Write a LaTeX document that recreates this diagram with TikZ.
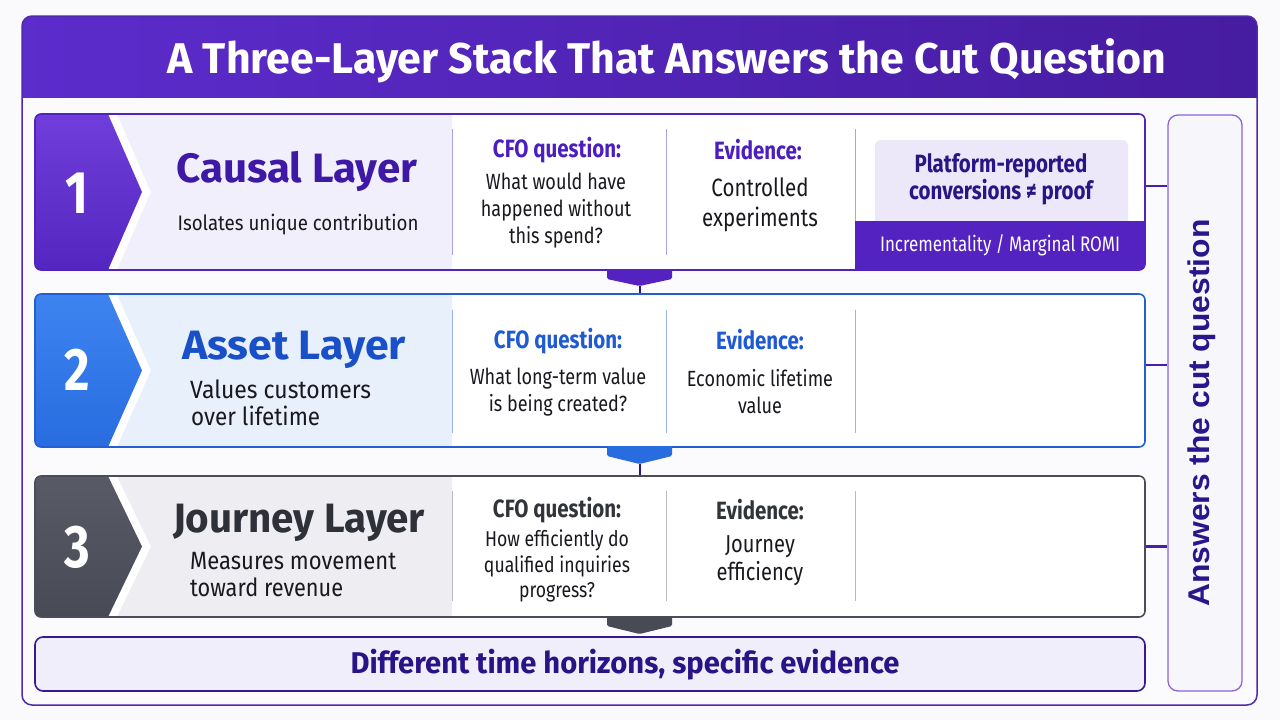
\documentclass[tikz,border=0pt]{standalone}
\usepackage{fontspec}
\usepackage{graphicx}
\setmainfont{Fira Sans}[FakeStretch=0.82]
\newfontfamily\arialfont{Liberation Sans}
\usetikzlibrary{calc}

\newsavebox\fitbox
\newlength\fitlen
\newcommand\fitw[2]{\sbox\fitbox{#2}\fitlen=\wd\fitbox\pgfmathsetmacro\fitr{#1/\fitlen}\scalebox{\fitr}[1]{\usebox\fitbox}}
\newcommand\fs[2]{\fontsize{#1}{#2}\selectfont}

\definecolor{pagebg}{RGB}{250,250,252}
\definecolor{hdrA}{RGB}{92,44,204}
\definecolor{hdrB}{RGB}{70,28,160}
\definecolor{framec}{RGB}{78,42,172}
\definecolor{inner}{RGB}{251,251,253}
\definecolor{txt}{RGB}{24,24,30}
% layer 1
\definecolor{aBorder}{RGB}{80,35,190}
\definecolor{aTop}{RGB}{112,62,218}
\definecolor{aBot}{RGB}{84,38,192}
\definecolor{aLight}{RGB}{241,239,251}
\definecolor{aTitle}{RGB}{62,25,165}
\definecolor{aHead}{RGB}{76,30,190}
\definecolor{aSep}{RGB}{175,160,230}
\definecolor{aLav}{RGB}{236,232,250}
\definecolor{aBar}{RGB}{84,34,192}
\definecolor{aDeep}{RGB}{42,21,133}
% layer 2
\definecolor{bBorder}{RGB}{35,95,210}
\definecolor{bTop}{RGB}{62,132,240}
\definecolor{bBot}{RGB}{40,108,224}
\definecolor{bLight}{RGB}{232,240,251}
\definecolor{bTitle}{RGB}{25,80,200}
\definecolor{bHead}{RGB}{30,90,210}
\definecolor{bSep}{RGB}{150,182,236}
% layer 3
\definecolor{cBorder}{RGB}{75,78,88}
\definecolor{cTop}{RGB}{88,91,102}
\definecolor{cBot}{RGB}{72,75,86}
\definecolor{cLight}{RGB}{238,238,242}
\definecolor{cTitle}{RGB}{47,49,57}
\definecolor{cHead}{RGB}{50,52,60}
\definecolor{cSep}{RGB}{185,185,195}
% others
\definecolor{botB}{RGB}{55,25,150}
\definecolor{botF}{RGB}{240,238,250}
\definecolor{botT}{RGB}{42,18,135}
\definecolor{rbB}{RGB}{140,100,220}
\definecolor{rbF}{RGB}{247,246,251}
\definecolor{rbT}{RGB}{42,22,140}
\definecolor{connc}{RGB}{72,30,170}

\tikzset{
  layerbox/.style={draw=#1, line width=1.6pt, rounded corners=6, minimum width=1110pt, inner sep=0pt},
  num/.style={text=white, font=\bfseries\fs{60}{62}},
  head/.style={text=#1, font=\bfseries\fs{25}{28}, inner sep=0pt},
  body/.style={text=txt, font=\fs{22}{27}, align=center, inner sep=0pt},
  conn/.style={draw=connc, line width=2.6pt},
  tabline/.style={draw=aDeep, line width=2pt},
  sepline/.style={line width=1pt},
}

\begin{document}
\begin{tikzpicture}[x=1pt,y=-1pt]
\useasboundingbox (0,0) rectangle (1280,720);
\fill[pagebg] (0,0) rectangle (1280,720);

% ---------- outer frame and header
\fill[inner, rounded corners=10] (22,16) rectangle (1257,705);
\begin{scope}
  \clip[rounded corners=10] (22,16) rectangle (1257,705);
  \shade[left color=hdrA, right color=hdrB] (22,16) rectangle (1257,97);
\end{scope}
\node[draw=framec, line width=1.5pt, rounded corners=10, minimum width=1235pt, minimum height=689pt, inner sep=0pt] (frame) at (639.5,360.5) {};
\node[text=white, anchor=base, inner sep=0pt] (title) at (667,73) {\fitw{999pt}{\bfseries\fs{43}{48}A Three-Layer Stack That Answers the Cut Question}};

% ---------- right box
\node[draw=rbB, fill=rbF, line width=1.3pt, rounded corners=10, minimum width=74pt, minimum height=576pt, inner sep=0pt] (rbox) at (1205,403) {};
\node[rotate=90, text=rbT, inner sep=0pt] (rtext) at (1202,413) {\fitw{387pt}{\arialfont\bfseries\fs{30}{32}Answers the cut question}};

% ---------- layer 1
\fill[white, rounded corners=6] (35,114) rectangle (1145,270);
\begin{scope}
  \clip[rounded corners=6] (35,114) rectangle (1145,270);
  \shade[top color=aTop, bottom color=aBot] (35,114) -- (108,114) -- (142,192) -- (108,270) -- (35,270) -- cycle;
  \fill[aLight] (117,114) -- (151,192) -- (117,270) -- (452,270) -- (452,114) -- cycle;
  \fill[aLav, rounded corners=6] (875,140) rectangle (1128,226);
  \fill[aBar] (855,221) rectangle (1145,270);
\end{scope}
\draw[sepline, aSep] (452,129) -- (452,255);
\draw[sepline, aSep] (666,129) -- (666,255);
\draw[sepline, aSep] (855,129) -- (855,221);
\node[layerbox=aBorder, minimum height=156pt] (l1) at (590,192) {};
\node[num] (n1) at (77,193) {1};
\node[text=aTitle, anchor=base, inner sep=0pt] (t1) at (297,182) {\fitw{241pt}{\bfseries\fs{41}{44}Causal Layer}};
\node[text=txt, anchor=base, inner sep=0pt] (s1) at (298,230) {\fitw{241pt}{\fs{21}{24}Isolates unique contribution}};
\node[head=aHead] (q1h) at (557,150) {CFO question:};
\node[body] (q1b) at (556,211) {What would have\\happened without\\this spend?};
\node[head=aHead] (e1h) at (758,150) {Evidence:};
\node[body, font=\fs{25}{30}] (e1b) at (760,205) {Controlled\\experiments};
\node[text=aDeep, font=\bfseries\fs{25}{27}, align=center, inner sep=0pt] (p1) at (1001,179) {Platform-reported\\conversions ≠ proof};
\node[text=white, inner sep=0pt] (bar1) at (1000,245) {\fitw{240pt}{\fs{21}{24}Incrementality / Marginal ROMI}};

% ---------- layer 2
\fill[white, rounded corners=6] (35,294) rectangle (1145,447);
\begin{scope}
  \clip[rounded corners=6] (35,294) rectangle (1145,447);
  \shade[top color=bTop, bottom color=bBot] (35,294) -- (108,294) -- (142,370.5) -- (108,447) -- (35,447) -- cycle;
  \fill[bLight] (117,294) -- (151,370.5) -- (117,447) -- (452,447) -- (452,294) -- cycle;
\end{scope}
\draw[sepline, bSep] (452,310) -- (452,433);
\draw[sepline, bSep] (666,310) -- (666,433);
\draw[sepline, bSep] (855,310) -- (855,433);
\node[layerbox=bBorder, minimum height=153pt] (l2) at (590,370.5) {};
\node[num] (n2) at (77,370) {2};
\node[text=bTitle, anchor=base, inner sep=0pt] (t2) at (294,359) {\fitw{224pt}{\bfseries\fs{41}{44}Asset Layer}};
\node[text=txt, anchor=base west, inner sep=0pt] (s2a) at (190,398) {\fitw{181pt}{\fs{25}{28}Values customers}};
\node[text=txt, anchor=base west, inner sep=0pt] (s2b) at (191,425) {\fitw{129pt}{\fs{25}{28}over lifetime}};
\node[head=bHead] (q2h) at (558,341) {CFO question:};
\node[body] (q2b) at (558,392) {What long-term value\\is being created?};
\node[head=bHead] (e2h) at (760,340) {Evidence:};
\node[body] (e2b) at (760,392) {Economic lifetime\\value};

% ---------- layer 3
\fill[white, rounded corners=6] (35,476) rectangle (1145,617);
\begin{scope}
  \clip[rounded corners=6] (35,476) rectangle (1145,617);
  \shade[top color=cTop, bottom color=cBot] (35,476) -- (108,476) -- (142,546.5) -- (108,617) -- (35,617) -- cycle;
  \fill[cLight] (117,476) -- (151,546.5) -- (117,617) -- (452,617) -- (452,476) -- cycle;
\end{scope}
\draw[sepline, cSep] (452,491) -- (452,601);
\draw[sepline, cSep] (666,491) -- (666,601);
\draw[sepline, cSep] (855,491) -- (855,601);
\node[layerbox=cBorder, minimum height=141pt] (l3) at (590,546.5) {};
\node[num] (n3) at (77,547) {3};
\node[text=cTitle, anchor=base, inner sep=0pt] (t3) at (299,532) {\fitw{252pt}{\bfseries\fs{41}{44}Journey Layer}};
\node[text=txt, anchor=base west, inner sep=0pt] (s3a) at (190,569) {\fitw{206pt}{\fs{25}{28}Measures movement}};
\node[text=txt, anchor=base west, inner sep=0pt] (s3b) at (190,596) {\fitw{153pt}{\fs{25}{28}toward revenue}};
\node[head=cHead] (q3h) at (557,510) {CFO question:};
\node[body, font=\fs{21.5}{25.5}] (q3b) at (557,566) {How efficiently do\\qualified inquiries\\progress?};
\node[head=cHead] (e3h) at (760,510) {Evidence:};
\node[body, font=\fs{24.5}{28}] (e3b) at (760,561) {Journey\\efficiency};

% ---------- bottom box
\node[draw=botB, fill=botF, line width=1.6pt, rounded corners=8, minimum width=1110pt, minimum height=54pt, inner sep=0pt] (bot) at (590,664) {};
\node[text=botT, inner sep=0pt] (bottxt) at (625,665) {\fitw{549pt}{\bfseries\fs{30}{32}Different time horizons, specific evidence}};

% ---------- tabs between layers
\fill[aBar, rounded corners=1.5] (607,269) -- (672,269) -- (672,279) -- (639.5,286) -- (607,279) -- cycle;
\coordinate (tab1) at (639.5,286);
\draw[tabline] (tab1) -- (tab1 |- l2.north);
\fill[bBot, rounded corners=1.5] (607,446) -- (672,446) -- (672,456) -- (639.5,464) -- (607,456) -- cycle;
\coordinate (tab2) at (639.5,464);
\draw[tabline] (tab2) -- (tab2 |- l3.north);
\fill[cBot, rounded corners=1.5] (607,616) -- (672,616) -- (672,626) -- (639.5,634) -- (607,626) -- cycle;

% ---------- connectors to right box
\draw[conn] ([yshift=6pt]l1.east) -- ([yshift=6pt]l1.east -| rbox.west);
\draw[conn] ([yshift=5.5pt]l2.east) -- ([yshift=5.5pt]l2.east -| rbox.west);
\draw[conn] (l3.east) -- (l3.east -| rbox.west);
\end{tikzpicture}
\end{document}
